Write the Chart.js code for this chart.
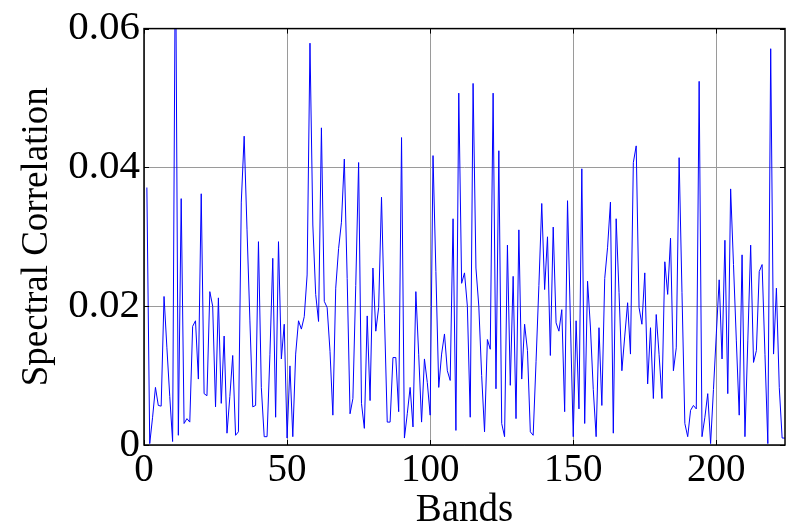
<!DOCTYPE html>
<html>
<head>
<meta charset="utf-8">
<script src="https://cdn.jsdelivr.net/npm/chart.js@4/dist/chart.umd.min.js"></script>
<style>
  html, body { margin: 0; padding: 0; background: #ffffff; }
  #wrap { width: 787px; height: 532px; }
</style>
</head>
<body>
<div id="wrap"><canvas id="chart" width="787" height="532"></canvas></div>
<script>
// Spectral correlation per band (bands numbered from firstBand upward)
const firstBand = 1;
const correlation = [
  0.0371, 0.0002, 0.0040, 0.0083, 0.0057, 0.0056, 0.0214, 0.0140, 0.0070, 0.0005,
  0.0750, 0.0014, 0.0355, 0.0031, 0.0038, 0.0033, 0.0171, 0.0179, 0.0095, 0.0362,
  0.0074, 0.0071, 0.0221, 0.0200, 0.0055, 0.0212, 0.0060, 0.0157, 0.0017, 0.0070,
  0.0129, 0.0014, 0.0019, 0.0350, 0.0445, 0.0310, 0.0180, 0.0055, 0.0057, 0.0293,
  0.0083, 0.0012, 0.0012, 0.0130, 0.0269, 0.0040, 0.0293, 0.0124, 0.0174, 0.0010,
  0.0114, 0.0012, 0.0131, 0.0179, 0.0167, 0.0185, 0.0245, 0.0579, 0.0317, 0.0217,
  0.0178, 0.0457, 0.0207, 0.0198, 0.0135, 0.0043, 0.0226, 0.0283, 0.0321, 0.0412,
  0.0240, 0.0045, 0.0067, 0.0230, 0.0407, 0.0060, 0.0024, 0.0186, 0.0064, 0.0255,
  0.0164, 0.0198, 0.0357, 0.0190, 0.0033, 0.0033, 0.0126, 0.0126, 0.0048, 0.0443,
  0.0010, 0.0045, 0.0083, 0.0026, 0.0221, 0.0130, 0.0033, 0.0124, 0.0090, 0.0043,
  0.0417, 0.0250, 0.0083, 0.0131, 0.0160, 0.0107, 0.0093, 0.0326, 0.0021, 0.0507,
  0.0233, 0.0248, 0.0200, 0.0040, 0.0521, 0.0255, 0.0200, 0.0100, 0.0019, 0.0152,
  0.0138, 0.0507, 0.0081, 0.0424, 0.0031, 0.0012, 0.0288, 0.0086, 0.0243, 0.0038,
  0.0310, 0.0095, 0.0174, 0.0136, 0.0019, 0.0014, 0.0120, 0.0230, 0.0348, 0.0224,
  0.0300, 0.0129, 0.0314, 0.0176, 0.0164, 0.0195, 0.0048, 0.0352, 0.0180, 0.0012,
  0.0179, 0.0052, 0.0398, 0.0031, 0.0236, 0.0170, 0.0080, 0.0012, 0.0169, 0.0057,
  0.0240, 0.0285, 0.0350, 0.0017, 0.0326, 0.0220, 0.0107, 0.0157, 0.0205, 0.0131,
  0.0407, 0.0431, 0.0198, 0.0174, 0.0248, 0.0088, 0.0169, 0.0067, 0.0188, 0.0130,
  0.0067, 0.0264, 0.0217, 0.0298, 0.0107, 0.0140, 0.0414, 0.0220, 0.0031, 0.0012,
  0.0050, 0.0057, 0.0052, 0.0524, 0.0012, 0.0040, 0.0074, 0.0002, 0.0080, 0.0160,
  0.0238, 0.0124, 0.0295, 0.0074, 0.0369, 0.0260, 0.0150, 0.0043, 0.0274, 0.0012,
  0.0150, 0.0288, 0.0119, 0.0136, 0.0250, 0.0260, 0.0130, 0.0002, 0.0571, 0.0131,
  0.0226, 0.0083, 0.0010, 0.0010
];

// Axis ranges and tick labels
const xRange = [0, 224];
const xTicks = [0, 50, 100, 150, 200];
const yRange = [0, 0.06];
const yTicks = [0, 0.02, 0.04, 0.06];
const yTickLabels = ['0', '0.02', '0.04', '0.06'];

const serif = "'Liberation Serif', 'Times New Roman', 'DejaVu Serif', serif";

// Black box around the plot plus inward tick marks on all four sides
const boxAndTicks = {
  id: 'boxAndTicks',
  afterDatasetsDraw(chart) {
    const { ctx, chartArea: a, scales: { x, y } } = chart;
    const len = 5;
    ctx.save();
    ctx.strokeStyle = '#000';
    ctx.lineWidth = 1;
    ctx.beginPath();
    x.ticks.forEach(t => {
      const px = Math.round(x.getPixelForValue(t.value)) + 0.5;
      ctx.moveTo(px, a.bottom); ctx.lineTo(px, a.bottom - len);
      ctx.moveTo(px, a.top); ctx.lineTo(px, a.top + len);
    });
    y.ticks.forEach(t => {
      const py = Math.round(y.getPixelForValue(t.value)) + 0.5;
      ctx.moveTo(a.left, py); ctx.lineTo(a.left + len, py);
      ctx.moveTo(a.right, py); ctx.lineTo(a.right - len, py);
    });
    ctx.stroke();
    ctx.lineWidth = 1.5;
    ctx.strokeRect(a.left, a.top, a.right - a.left, a.bottom - a.top);
    ctx.restore();
  }
};

new Chart(document.getElementById('chart'), {
  type: 'line',
  data: {
    datasets: [{
      data: correlation.map((v, i) => ({ x: firstBand + i, y: v })),
      borderColor: '#0000ff',
      borderWidth: 1,
      pointRadius: 0,
      tension: 0,
      fill: false
    }]
  },
  options: {
    responsive: false,
    animation: false,
    devicePixelRatio: 1,
    layout: { padding: { top: 25, right: 2, left: 0, bottom: 0 } },
    plugins: { legend: { display: false }, tooltip: { enabled: false } },
    scales: {
      x: {
        type: 'linear',
        min: xRange[0],
        max: xRange[1],
        afterBuildTicks: s => { s.ticks = xTicks.map(v => ({ value: v })); },
        afterFit: s => { s.height = 87; },
        grid: { color: '#9a9a9a', lineWidth: 1, drawTicks: false },
        border: { display: false },
        ticks: {
          color: '#000',
          padding: 2,
          maxRotation: 0,
          autoSkip: false,
          font: { family: serif, size: 39 }
        },
        title: {
          display: true,
          text: 'Bands',
          color: '#000',
          padding: { top: 0, bottom: 0 },
          font: { family: serif, size: 39, lineHeight: 1.1 }
        }
      },
      y: {
        type: 'linear',
        min: yRange[0],
        max: yRange[1],
        afterBuildTicks: s => { s.ticks = yTicks.map(v => ({ value: v })); },
        afterFit: s => { s.width = 144; },
        grid: { color: '#9a9a9a', lineWidth: 1, drawTicks: false },
        border: { display: false },
        ticks: {
          color: '#000',
          padding: 4,
          autoSkip: false,
          font: { family: serif, size: 41 },
          callback: v => yTickLabels[yTicks.findIndex(t => Math.abs(t - v) < 1e-9)]
        },
        title: {
          display: true,
          text: 'Spectral Correlation',
          color: '#000',
          padding: { top: 15, bottom: 0 },
          font: { family: serif, size: 37 }
        }
      }
    }
  },
  plugins: [boxAndTicks]
});
</script>
</body>
</html>
